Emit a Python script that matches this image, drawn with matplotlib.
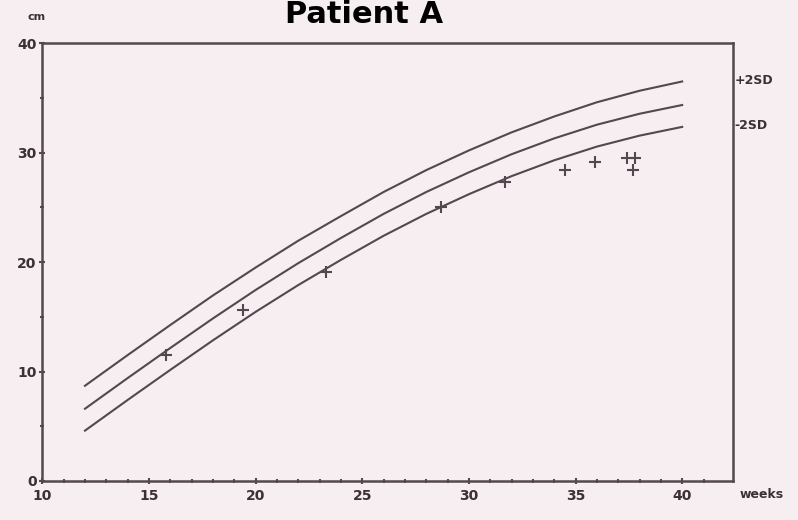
import matplotlib
matplotlib.use("Agg")
from matplotlib import pyplot as plt

# reference curves (cm by gestational week)
weeks = [12, 14, 16, 18, 20, 22, 24, 26, 28, 30, 32, 34, 36, 38, 40]
upper_2sd = [8.7, 11.5, 14.25, 16.95, 19.5, 21.95, 24.2, 26.4, 28.4, 30.2, 31.85, 33.3, 34.6, 35.65, 36.5]
mean_curve = [6.6, 9.4, 12.15, 14.85, 17.45, 19.9, 22.2, 24.4, 26.4, 28.2, 29.85, 31.3, 32.55, 33.55, 34.35]
lower_2sd = [4.6, 7.4, 10.15, 12.85, 15.45, 17.9, 20.2, 22.4, 24.4, 26.2, 27.85, 29.3, 30.55, 31.55, 32.35]

# patient measurements
pt_weeks = [15.8, 19.4, 23.3, 28.7, 31.7, 34.5, 35.9, 37.4, 37.8, 37.7]
pt_cm = [11.5, 15.6, 19.1, 25.0, 27.3, 28.4, 29.1, 29.5, 29.5, 28.4]

BG = '#f6eef1'
INK = '#55474f'
TXT = '#3a3035'

fig = plt.figure(figsize=(7.98, 5.2), dpi=100, facecolor=BG)
ax = fig.add_axes([0.053, 0.075, 0.866, 0.842], facecolor=BG)

for curve in (upper_2sd, mean_curve, lower_2sd):
    ax.plot(weeks, curve, color=INK, lw=1.5)
ax.plot(pt_weeks, pt_cm, ls='none', marker='+', ms=8, mew=1.5, color=INK)

ax.set_xlim(10, 42.4)
ax.set_ylim(0, 40)
ax.set_xticks(range(10, 41, 5))
ax.set_xticks(range(10, 42), minor=True)
ax.set_yticks(range(0, 41, 10))
ax.set_yticks(range(5, 40, 10), minor=True)
ax.tick_params(which='both', direction='inout', color=INK, labelcolor=TXT,
               labelsize=10)
ax.tick_params(axis='x', pad=4)
ax.tick_params(axis='y', pad=2)
ax.tick_params(which='major', length=4, width=1.5)
ax.tick_params(which='minor', length=3, width=1.5)
for lab in ax.get_xticklabels() + ax.get_yticklabels():
    lab.set_fontweight('bold')
for s in ax.spines.values():
    s.set_color(INK)
    s.set_linewidth(1.8)

ax.text(42.45, 36.6, '+2SD', color=TXT, fontsize=9, fontweight='bold', va='center')
ax.text(42.45, 32.5, '-2SD', color=TXT, fontsize=9, fontweight='bold', va='center')
ax.text(42.7, -1.2, 'weeks', color=TXT, fontsize=9, fontweight='bold', va='center')
fig.text(0.046, 0.962, 'cm', color=TXT, fontsize=8, fontweight='bold', ha='center')
fig.text(0.456, 0.956, 'Patient A', fontsize=22, fontweight='bold', ha='center', va='baseline',
         color='black')

plt.savefig('out.png', dpi=100, facecolor=BG)
